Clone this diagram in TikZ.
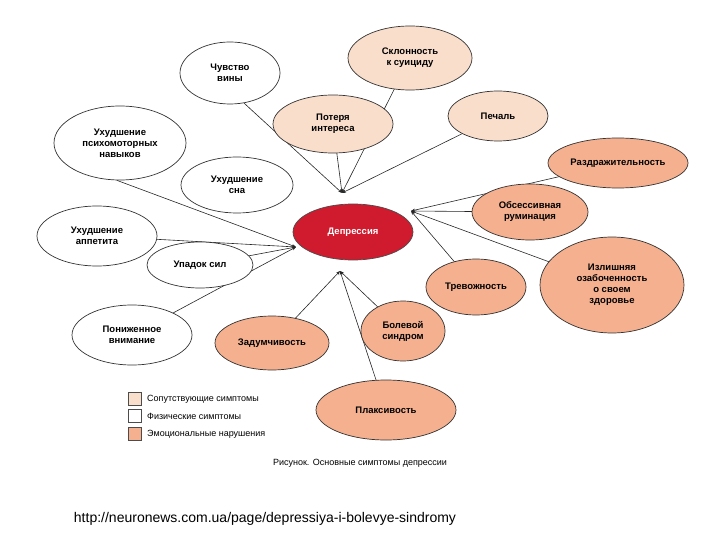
\documentclass[tikz,border=0pt]{standalone}
\usepackage{fontspec}
\setmainfont{Liberation Sans}
\usetikzlibrary{arrows.meta,shapes.geometric,backgrounds}
\definecolor{lp}{HTML}{F9DECB}
\definecolor{sal}{HTML}{F5B08F}
\definecolor{dep}{HTML}{D01A2E}
\begin{document}
\begin{tikzpicture}[x=1pt,y=-1pt,
 el/.style={draw=black!80,line width=0.7pt,fill=white,align=center,font=\fontsize{9.5}{11}\selectfont\bfseries,inner sep=0pt,shape=ellipse},
 ln/.style={draw=black!85,line width=0.6pt,-{Stealth[length=4pt,width=3pt]}},
 lg/.style={draw=black!70,minimum size=13pt,inner sep=0pt},
 lt/.style={anchor=west,font=\fontsize{9}{10}\selectfont,inner sep=0pt}]
\useasboundingbox (0,0) rectangle (720,540);
\newcommand{\E}[6]{\node[el,#6,minimum width=#4,minimum height=#5] (#1) at #2 {#3};}
\coordinate (ht) at (342,193);
\coordinate (hr) at (411,211);
\coordinate (hl) at (296,247);
\coordinate (hb) at (340,271);
\E{vin}{(230,73)}{Чувство\\вины}{100pt}{62pt}{}
\E{sui}{(410,58)}{Склонность\\к суициду}{124pt}{64pt}{fill=lp}
\E{pot}{(333,124)}{Потеря\\интереса}{120pt}{58pt}{fill=lp}
\E{pec}{(498,116)}{Печаль}{100pt}{50pt}{fill=lp}
\E{psi}{(120,143)}{Ухудшение\\психомоторных\\навыков}{132pt}{74pt}{}
\E{son}{(237,185)}{Ухудшение\\сна}{112pt}{56pt}{}
\E{raz}{(618,163)}{Раздражительность}{140pt}{50pt}{fill=sal}
\E{obs}{(530,212)}{Обсессивная\\руминация}{116pt}{56pt}{fill=sal}
\E{app}{(97,236)}{Ухудшение\\аппетита}{120pt}{60pt}{}
\E{upa}{(200,265)}{Упадок сил}{106pt}{46pt}{}
\E{izl}{(612,285)}{Излишняя\\озабоченность\\о своем\\здоровье}{144pt}{96pt}{fill=sal}
\E{tre}{(476,287)}{Тревожность}{100pt}{56pt}{fill=sal}
\E{pon}{(132,335)}{Пониженное\\внимание}{120pt}{60pt}{}
\E{zad}{(272,343)}{Задумчивость}{114pt}{54pt}{fill=sal}
\E{bol}{(403,331)}{Болевой\\синдром}{84pt}{60pt}{fill=sal}
\E{pla}{(386,410)}{Плаксивость}{140pt}{60pt}{fill=sal}
\node[el,fill=dep,draw=black!70,text=white,minimum width=120pt,minimum height=56pt] (dp) at (353,232) {Депрессия};
\begin{scope}[on background layer]
\draw[ln] (vin.-65) -- (ht);
\draw[ln] (psi.-95) -- (hl);
\foreach \n in {sui,pot,pec} \draw[ln] (\n.center) -- (ht);
\foreach \n in {raz,obs,izl,tre} \draw[ln] (\n.center) -- (hr);
\foreach \n in {app,upa,pon} \draw[ln] (\n.center) -- (hl);
\foreach \n in {zad,bol,pla} \draw[ln] (\n.center) -- (hb);
\end{scope}
\node[lg,fill=lp] (l1) at (135,399) {};
\node[lg,fill=white] (l2) at (135,416) {};
\node[lg,fill=sal] (l3) at (135,434) {};
\node[lt] (t1) at (147,399) {Сопутствующие симптомы};
\node[lt] (t2) at (147,416) {Физические симптомы};
\node[lt] (t3) at (147,434) {Эмоциональные нарушения};
\node[font=\fontsize{9}{10}\selectfont] (cap) at (360,463) {Рисунок. Основные симптомы депрессии};
\node[font=\fontsize{14}{16}\selectfont] (url) at (265,519) {http://neuronews.com.ua/page/depressiya-i-bolevye-sindromy};
\end{tikzpicture}
\end{document}
